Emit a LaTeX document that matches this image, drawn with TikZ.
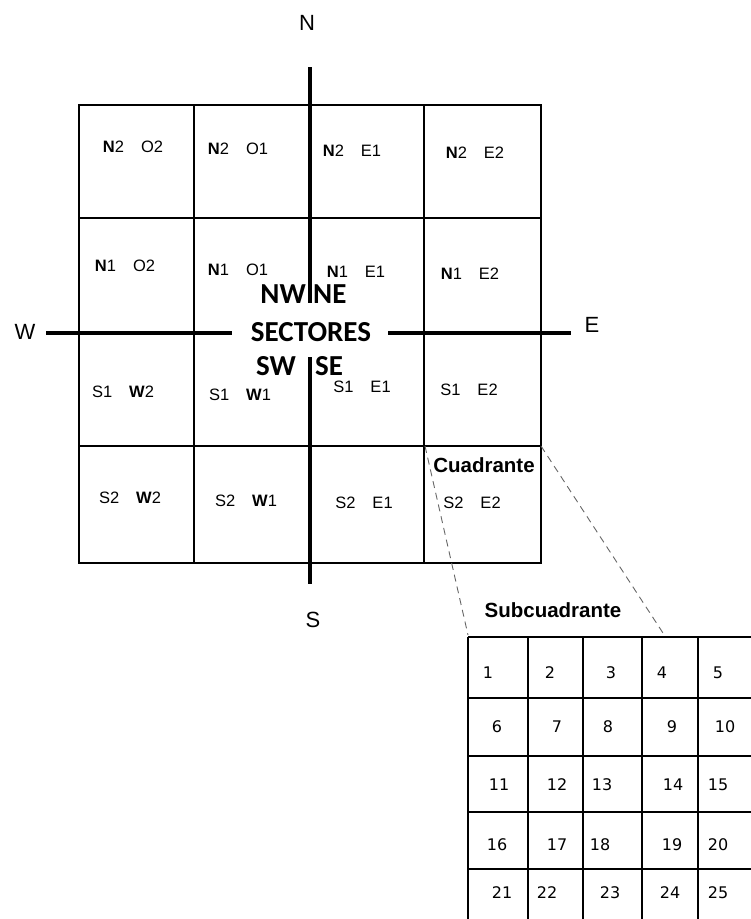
\documentclass[tikz,border=0pt]{standalone}
\usepackage{fontspec}
\setmainfont{Liberation Sans}
\newfontfamily\calfont{Carlito}
\newfontfamily\numfont{DejaVu Sans}
\begin{document}
\begin{tikzpicture}[x=1pt,y=-1pt,
  gridline/.style={line width=1.7pt},
  axis/.style={line width=3.7pt},
  link/.style={dash pattern=on 7pt off 5pt, line width=0.9pt, draw=black!60},
  cell/.style={inner sep=0pt, font=\fontsize{16.5}{19}\selectfont},
  axislabel/.style={inner sep=0pt, font=\fontsize{22}{26}\selectfont},
  sector/.style={inner sep=0pt, font=\calfont\bfseries\fontsize{29}{34}\selectfont},
  caption/.style={inner sep=0pt, anchor=base, font=\bfseries\fontsize{20.5}{24}\selectfont},
  num/.style={inner sep=0pt, font=\numfont\fontsize{16}{19}\selectfont}]
\useasboundingbox (0,0) rectangle (751,919);
\newcommand\gp{\hspace{17pt}}

% main grid
\draw[gridline] (79,105) rectangle (541,563);
\draw[gridline] (194,105) -- (194,563);
\draw[gridline] (424,105) -- (424,563);
\draw[gridline] (79,218) -- (541,218);
\draw[gridline] (79,446) -- (541,446);

% axis labels
\node[axislabel] (N) at (307,23) {N};
\node[axislabel] (S) at (313,620) {S};
\node[axislabel] (W) at (25,332) {W};
\node[axislabel] (E) at (592,325) {E};

% centre texts
\node[sector, anchor=east] (NW) at (306,294) {NW};
\node[sector, anchor=west] (NE) at (313,294) {NE};
\node[sector] (SEC) at (311,332) {SECTORES};
\node[sector, anchor=east] (SW) at (296,366) {SW};
\node[sector, anchor=west] (SE) at (315,366) {SE};

% axes
\coordinate (ntop) at (310,67);
\coordinate (nbot) at (310,303);
\coordinate (stop) at (310,357);
\coordinate (sbot) at (310,584);
\coordinate (wl) at (46,333);
\coordinate (wr) at (232,333);
\coordinate (el) at (388,333);
\coordinate (er) at (571,333);
\draw[axis] (ntop) -- (nbot);
\draw[axis] (stop) -- (sbot);
\draw[axis] (wl) -- (wr);
\draw[axis] (el) -- (er);

% cell labels
\node[cell] (a1) at (133,147) {\textbf{N}2\gp O2};
\node[cell] (a2) at (238,149) {\textbf{N}2\gp O1};
\node[cell] (a3) at (352,151) {\textbf{N}2\gp E1};
\node[cell] (a4) at (475,153) {\textbf{N}2\gp E2};
\node[cell] (b1) at (125,266) {\textbf{N}1\gp O2};
\node[cell] (b2) at (238,270) {\textbf{N}1\gp O1};
\node[cell] (b3) at (356,272) {\textbf{N}1\gp E1};
\node[cell] (b4) at (470,274) {\textbf{N}1\gp E2};
\node[cell] (c1) at (123,392) {S1\gp \textbf{W}2};
\node[cell] (c2) at (240,395) {S1\gp \textbf{W}1};
\node[cell] (c3) at (362,387) {S1\gp E1};
\node[cell] (c4) at (469,390) {S1\gp E2};
\node[cell] (d1) at (130,498) {S2\gp \textbf{W}2};
\node[cell] (d2) at (246,501) {S2\gp \textbf{W}1};
\node[cell] (d3) at (364,503) {S2\gp E1};
\node[cell] (d4) at (472,503) {S2\gp E2};

\node[caption] (cuad) at (484,472) {Cuadrante};
\node[caption] (subc) at (553,617) {Subcuadrante};

% zoom links
\coordinate (q1) at (425,446);
\coordinate (q2) at (541,446);
\coordinate (r1) at (468,635);
\coordinate (r2) at (663,633);
\draw[link] (q1) -- (r1);
\draw[link] (q2) -- (r2);

% sub grid
\begin{scope}
\clip (0,0) rectangle (751,919);
\foreach \x in {468,528,583,642,698} \draw[gridline] (\x,637) -- (\x,930);
\foreach \y in {637,698,756,812,869} \draw[gridline] (468,\y) -- (760,\y);
\end{scope}

\node[num] (n1) at (488,673) {1};
\node[num] (n2) at (550,673) {2};
\node[num] (n3) at (611,673) {3};
\node[num] (n4) at (662,673) {4};
\node[num] (n5) at (718,673) {5};
\node[num] (n6) at (497,727) {6};
\node[num] (n7) at (557,727) {7};
\node[num] (n8) at (608,727) {8};
\node[num] (n9) at (672,727) {9};
\node[num] (n10) at (725,727) {10};
\node[num] (n11) at (499,785) {11};
\node[num] (n12) at (557,785) {12};
\node[num] (n13) at (602,785) {13};
\node[num] (n14) at (673,785) {14};
\node[num] (n15) at (718,785) {15};
\node[num] (n16) at (497,845) {16};
\node[num] (n17) at (557,845) {17};
\node[num] (n18) at (600,845) {18};
\node[num] (n19) at (672,845) {19};
\node[num] (n20) at (718,845) {20};
\node[num] (n21) at (502,893) {21};
\node[num] (n22) at (547,893) {22};
\node[num] (n23) at (610,893) {23};
\node[num] (n24) at (670,893) {24};
\node[num] (n25) at (718,893) {25};
\end{tikzpicture}
\end{document}
